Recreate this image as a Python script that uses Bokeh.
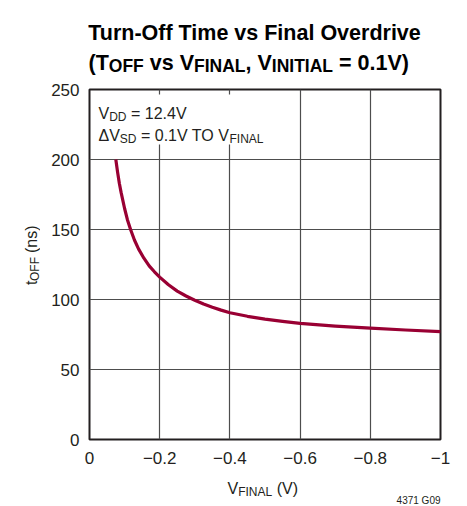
import math
from bokeh.plotting import figure
from bokeh.models import Range1d, FixedTicker, Label, BoxAnnotation
from bokeh.layouts import column, row
from bokeh.embed import file_html
from bokeh.resources import INLINE

# ---------------- data ----------------
v_final = [-0.075, -0.08, -0.085, -0.09, -0.10, -0.108, -0.117, -0.128, -0.14,
           -0.155, -0.17, -0.185, -0.20, -0.225, -0.25, -0.275, -0.30, -0.325,
           -0.35, -0.375, -0.40, -0.45, -0.50, -0.55, -0.60, -0.70, -0.80,
           -0.90, -1.00]
t_off = [200, 191, 183, 176.5, 165, 157, 150, 142.5, 136,
         129.5, 124, 119.8, 116, 110.5, 106, 102.5, 99.5, 96.8,
         94.5, 92.4, 90.5, 88, 86, 84.4, 83, 81, 79.5,
         78.2, 77]

x_ticks = [0, -0.2, -0.4, -0.6, -0.8, -1.0]
x_tick_labels = ["0", "\u22120.2", "\u22120.4", "\u22120.6", "\u22120.8", "\u22121"]
y_ticks = [0, 50, 100, 150, 200, 250]
y_tick_labels = ["0", "50", "100", "150", "200", "250"]

title_line1 = "Turn-Off Time vs Final Overdrive"
title_line2 = [("(T", 0), ("OFF", 1), (" vs V", 0), ("FINAL", 1), (", V", 0),
               ("INITIAL", 1), (" = 0.1V)", 0)]
note_line1 = [("V", 0), ("DD", 1), (" = 12.4V", 0)]
note_line2 = [("\u0394V", 0), ("SD", 1), (" = 0.1V TO V", 0), ("FINAL", 1)]
x_label = [("V", 0), ("FINAL", 1), (" (V)", 0)]
y_label = [("t", 0), ("OFF", 1), (" (ns)", 0)]
fig_id = "4371 G09"

# ---------------- layout / style ----------------
FONT = "Liberation Sans"
CURVE = "#990033"
GRID = "#4d4d4d"
TXT = "#231f20"

W, H = 467, 506
TOP_H = 78            # title strip
MID_H = 394           # main plot row
BOT_H = H - TOP_H - MID_H
YL_W = 40             # y-label strip
MAIN_W = W - YL_W

# Arial / Liberation Sans advance widths (per 1000 em)
REG = {"V": 667, "D": 722, "=": 584, " ": 278, ".": 278, "\u0394": 668, "S": 667,
       "T": 611, "O": 778, "F": 611, "I": 278, "N": 722, "A": 667, "L": 556,
       "t": 278, "(": 333, ")": 333, "n": 556, "s": 500}
BOLD = {"(": 333, ")": 333, "T": 611, "O": 778, "F": 611, "v": 556, "s": 556,
        "V": 667, "I": 278, "N": 722, "A": 722, "L": 611, ",": 278, "=": 584,
        ".": 278, " ": 278}


def tw(text, size, bold):
    tab = BOLD if bold else REG
    return sum(tab.get(c, 556) for c in text) * size / 1000.0


def text_fig(w, h):
    f = figure(width=w, height=h, output_backend="svg", toolbar_location=None,
               x_range=Range1d(0, w), y_range=Range1d(h, 0),
               x_axis_type=None, y_axis_type=None,
               min_border=0, min_border_left=0, min_border_right=0,
               min_border_top=0, min_border_bottom=0)
    f.outline_line_color = None
    f.background_fill_color = "white"
    f.border_fill_color = "white"
    f.grid.visible = False
    return f


def add_pieces(f, tox, toy, parts, x_px, base_px, size, sub_size, bold=False,
               sub_drop=3, vertical=False, color=TXT, extra_gap=0.0):
    pos = 0.0
    for text, sub in parts:
        fs = sub_size if sub else size
        drop = sub_drop if sub else 0
        lead_txt = text[:len(text) - len(text.lstrip())]
        lead = tw(lead_txt, fs, bold) + (extra_gap if lead_txt else 0.0)
        shown = text.strip()
        if vertical:
            lx, ly = tox(x_px + drop), toy(base_px - pos - lead)
            ang = math.pi / 2
        else:
            lx, ly = tox(x_px + pos + lead), toy(base_px + drop)
            ang = 0
        f.add_layout(Label(x=lx, y=ly, text=shown, angle=ang,
                           text_font=FONT, text_font_size=f"{fs}px",
                           text_font_style="bold" if bold else "normal",
                           text_color=color, text_align="left",
                           text_baseline="alphabetic"))
        pos += lead + tw(shown, fs, bold)
    return pos


ident = lambda v: v

# ---- title strip ----
ft = text_fig(W, TOP_H)
ft.add_layout(Label(x=254, y=32, text=title_line1, text_font=FONT,
                    text_font_size="21.5px", text_font_style="bold",
                    text_color="black", text_align="center",
                    text_baseline="alphabetic"))
add_pieces(ft, ident, ident, title_line2, 88, 62, 21.5, 17.5, bold=True,
           sub_drop=3, color="black")

# ---- y-label strip ----
fy = text_fig(YL_W, MID_H)
add_pieces(fy, ident, ident, y_label, 31, 298 - TOP_H, 16, 12, sub_drop=3,
           vertical=True, extra_gap=3)

# ---- main plot ----
FL, FR = 89 - YL_W, 440 - YL_W          # frame edges, local px
FT, FB = 89 - TOP_H, 439 - TOP_H
X0, X1, Y0, Y1 = 0.0, -1.0, 0.0, 250.0

p = figure(width=MAIN_W, height=MID_H, output_backend="svg",
           toolbar_location=None,
           x_range=Range1d(X0, X1), y_range=Range1d(Y0, Y1),
           min_border_left=FL, min_border_right=MAIN_W - FR,
           min_border_top=FT, min_border_bottom=MID_H - FB)
p.background_fill_color = "white"
p.border_fill_color = "white"
p.outline_line_color = TXT
p.outline_line_width = 2

p.xaxis.ticker = FixedTicker(ticks=x_ticks)
p.yaxis.ticker = FixedTicker(ticks=y_ticks)
p.xaxis.major_label_overrides = {t: l for t, l in zip(x_ticks, x_tick_labels)}
p.yaxis.major_label_overrides = {t: l for t, l in zip(y_ticks, y_tick_labels)}
for ax in (p.xaxis[0], p.yaxis[0]):
    ax.axis_line_color = None
    ax.major_tick_line_color = None
    ax.minor_tick_line_color = None
    ax.major_tick_out = 0
    ax.major_tick_in = 0
    ax.major_label_text_font = FONT
    ax.major_label_text_font_size = "17px"
    ax.major_label_text_color = TXT
p.xaxis.major_label_standoff = 12
p.yaxis.major_label_standoff = 10

p.xgrid.ticker = FixedTicker(ticks=x_ticks)
p.ygrid.ticker = FixedTicker(ticks=y_ticks)
p.grid.grid_line_color = GRID
p.grid.grid_line_width = 1.2

p.line(v_final, t_off, line_color=CURVE, line_width=3.2, line_join="round")


def px2x(px):
    return X0 + (px - FL) / (FR - FL) * (X1 - X0)


def py2y(py):
    return Y0 + (FB - py) / (FB - FT) * (Y1 - Y0)


# white panel behind the condition note (interrupts the grid lines)
p.add_layout(BoxAnnotation(left=px2x(91 - YL_W), right=px2x(282 - YL_W),
                           top=py2y(94 - TOP_H), bottom=py2y(144 - TOP_H),
                           fill_color="white", fill_alpha=1.0,
                           line_color=None))
add_pieces(p, px2x, py2y, note_line1, 98 - YL_W, 113 - TOP_H, 16, 12,
           sub_drop=3)
add_pieces(p, px2x, py2y, note_line2, 98 - YL_W, 135 - TOP_H, 16, 12,
           sub_drop=3)

# ---- bottom strip ----
OFF_B = TOP_H + MID_H
fb = text_fig(W, BOT_H)
add_pieces(fb, ident, ident, x_label, 227, 488 - OFF_B, 16, 12, sub_drop=3)
fb.add_layout(Label(x=440, y=500 - OFF_B, text=fig_id, text_font=FONT,
                    text_font_size="10px", text_color=TXT, text_align="right",
                    text_baseline="alphabetic"))

layout = column(ft, row(fy, p), fb)
open("out.html", "w").write(file_html(layout, INLINE))
